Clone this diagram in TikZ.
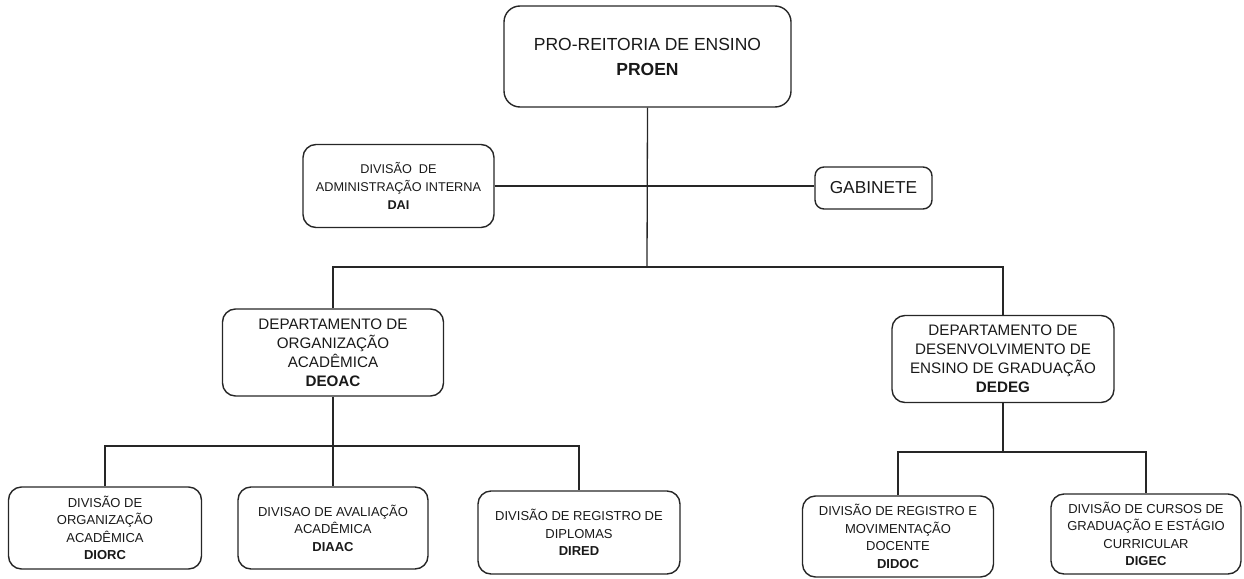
\documentclass[tikz,border=0pt]{standalone}
\usepackage{fontspec}
\setmainfont{Liberation Sans}
\begin{document}
\begin{tikzpicture}[x=1pt, y=-1pt,
  box/.style={draw=black!85, line width=1.4pt, rounded corners=13pt, align=center, inner sep=0pt, text=black!90},
  topbox/.style={box, rounded corners=16pt, font=\fontsize{17.5}{25}\selectfont},
  deptbox/.style={box, minimum width=221pt, minimum height=87pt, font=\fontsize{15.2}{19}\selectfont},
  divbox/.style={box, minimum width=192pt, minimum height=82pt, font=\fontsize{13}{17.5}\selectfont},
  link/.style={draw=black!85, line width=1.3pt}]
\useasboundingbox (0,0) rectangle (1244,578);
\node[topbox, minimum width=287pt, minimum height=101pt] (proen) at (647.5,56.5) {PRO-REITORIA DE ENSINO\\\textbf{PROEN}}; % PROEN
\node[box, minimum width=191pt, minimum height=83pt, font=\fontsize{12.7}{18}\selectfont] (dai) at (398.5,186) {DIVIS\~AO\ \ DE\\ADMINISTRA\c{C}\~AO INTERNA\\\textbf{DAI}}; % DAI
\node[box, minimum width=117pt, minimum height=42pt, rounded corners=9pt, font=\fontsize{17.3}{20}\selectfont] (gab) at (873.5,188) {GABINETE};
\node[deptbox] (deoac) at (333,352.5) {DEPARTAMENTO DE\\ORGANIZA\c{C}\~AO\\ACAD\^EMICA\\\textbf{DEOAC}}; % DEOAC
\node[deptbox, minimum width=222pt] (dedeg) at (1003,359) {DEPARTAMENTO DE\\DESENVOLVIMENTO DE\\ENSINO DE GRADUA\c{C}\~AO\\\textbf{DEDEG}}; % DEDEG
\node[divbox, minimum width=193pt] (diorc) at (105,528) {DIVIS\~AO DE\\ORGANIZA\c{C}\~AO\\ACAD\^EMICA\\\textbf{DIORC}}; % DIORC
\node[divbox, minimum width=190pt] (diaac) at (333,528) {DIVISAO DE AVALIA\c{C}\~AO\\ACAD\^EMICA\\\textbf{DIAAC}}; % DIAAC
\node[divbox, minimum width=202pt, minimum height=83pt] (dired) at (579,532.5) {DIVIS\~AO DE REGISTRO DE\\DIPLOMAS\\\textbf{DIRED}}; % DIRED
\node[divbox, minimum width=191pt, minimum height=81pt] (didoc) at (898,536.5) {DIVIS\~AO DE REGISTRO E\\MOVIMENTA\c{C}\~AO\\DOCENTE\\\textbf{DIDOC}}; % DIDOC
\node[divbox, minimum width=190pt, minimum height=80pt] (digec) at (1146,534) {DIVIS\~AO DE CURSOS DE\\GRADUA\c{C}\~AO E EST\'AGIO\\CURRICULAR\\\textbf{DIGEC}}; % DIGEC

\coordinate (busA) at (647,267);
\coordinate (busB) at (333,446);
\coordinate (busC) at (1003,452);

\draw[link] (proen.south) -- (busA);
\draw[link] (dai.east) -- (dai.east -| gab.west); % assessoria
\draw[link] (deoac.north) |- (busA) -| (dedeg.north);
\draw[link] (deoac.south) -- (diaac.north);
\draw[link] (diorc.north) |- (busB) -| (dired.north);
\draw[link] (dedeg.south) -- (busC);
\draw[link] (didoc.north) |- (busC) -| (digec.north);
\end{tikzpicture}
\end{document}
